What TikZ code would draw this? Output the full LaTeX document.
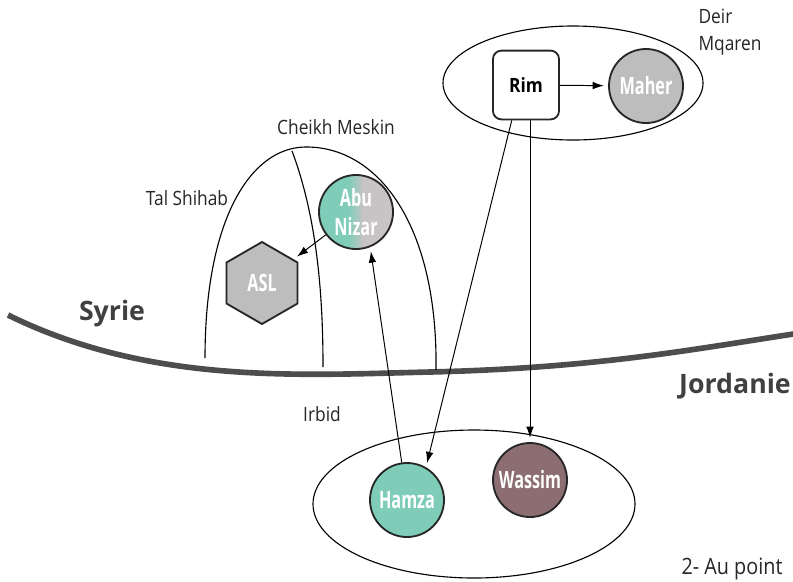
\documentclass[tikz,border=0pt]{standalone}
\usepackage{fontspec}
\setmainfont{Open Sans}
\newfontfamily\condfont{Open Sans}[FakeStretch=0.88]
\newfontfamily\namefont{Open Sans}[FakeStretch=0.68]
\usetikzlibrary{shapes.geometric,arrows.meta}
\definecolor{tealc}{HTML}{7FCDB8}
\definecolor{grayc}{HTML}{BDBDBD}
\definecolor{abugray}{HTML}{C8C3C4}
\definecolor{wassimc}{HTML}{8B6D72}
\definecolor{borderc}{HTML}{4D4D4D}
\pgfdeclarehorizontalshading{abushade}{100bp}{color(0bp)=(tealc); color(45bp)=(tealc); color(55bp)=(abugray); color(100bp)=(abugray)}
\begin{document}
\begin{tikzpicture}[x=0.025cm, y=-0.025cm, line width=0.8pt,
    person/.style={circle, draw=black!85, line width=1.3pt, minimum size=1.85cm, inner sep=0pt,
      text=white, align=center, font=\namefont\bfseries\fontsize{17}{20}\selectfont},
    place/.style={text=black!85, font=\condfont\fontsize{14}{19}\selectfont},
    country/.style={text=black!75, font=\bfseries\fontsize{19}{22}\selectfont},
    link/.style={-{Latex[length=2.8mm,width=1.9mm]}, line width=0.7pt, shorten >=3pt}]
  \useasboundingbox (0,0) rectangle (793,581);
  \clip (0,0) rectangle (793,581);
  \fill[white] (0,0) rectangle (793,581);
  % frontière
  \draw[borderc, line width=4pt] (8,315) .. controls (150,385) and (300,375) .. (430,372)
    .. controls (600,368) and (700,348) .. (800,333);
  \node[country] (syrie) at (112,314) {Syrie};
  \node[country] (jordanie) at (735,386) {Jordanie};
  % Tal Shihab / Cheikh Meskin
  \draw (205,358) .. controls (205,220) and (250,148) .. (305,147)
    .. controls (378,146) and (438,225) .. (436,370);
  \draw (292,151) .. controls (318,220) and (323,300) .. (323,367);
  \node[place] (talshihab) at (187,198) {Tal Shihab};
  \node[place] (cheikh) at (336,127) {Cheikh Meskin};
  % Deir Mqaren
  \draw (573,83) ellipse (130 and 57);
  \node[place, align=left] (deir) at (730,32) {Deir\\Mqaren};
  % Irbid
  \draw (474,504) ellipse (161 and 74);
  \node[place] (irbid) at (322,414) {Irbid};
  % acteurs
  \node[person, shading=abushade] (abu) at (356,212) {Abu\\Nizar};
  \node[regular polygon, regular polygon sides=6, shape border rotate=30, minimum size=2.05cm,
    inner sep=0pt, draw=black!85, line width=1.3pt, fill=grayc, text=white,
    font=\namefont\bfseries\fontsize{17}{17}\selectfont] (asl) at (262,283) {ASL};
  \node[draw=black!85, line width=1.3pt, rounded corners=6pt, fill=white, minimum width=1.65cm,
    minimum height=1.72cm, font=\condfont\bfseries\fontsize{14}{14}\selectfont] (rim) at (526,85) {Rim};
  \node[person, fill=grayc] (maher) at (646,86) {Maher};
  \node[person, fill=tealc] (hamza) at (407,500) {Hamza};
  \node[person, fill=wassimc] (wassim) at (530,480) {Wassim};
  % liens
  \draw[link] (rim) -- (maher);
  \draw[link] (rim.-112) -- (hamza.60);
  \draw[link] (rim.south -| wassim) -- (wassim.north);
  \draw[link] (abu) -- (asl);
  \draw[link] (hamza.98) -- (abu.-68);
  % légende
  \node[place, anchor=base west, inner sep=0pt, font=\condfont\fontsize{16}{16}\selectfont] (aupoint) at (681,574) {2- Au point};
\end{tikzpicture}
\end{document}
